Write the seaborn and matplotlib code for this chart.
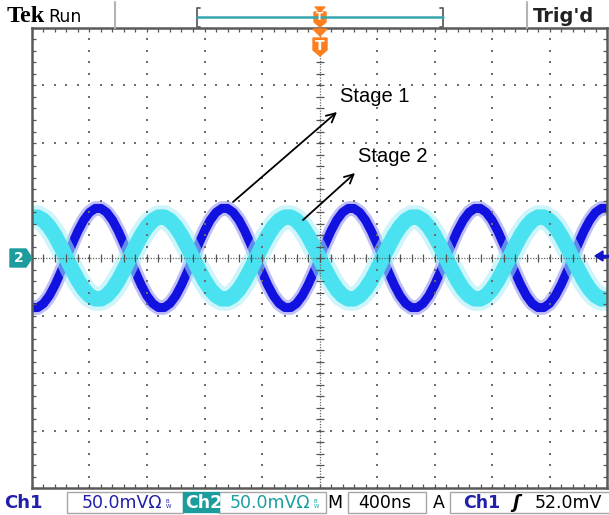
import numpy as np
import pandas as pd
import matplotlib
matplotlib.use("Agg")
import matplotlib.pyplot as plt
from matplotlib.patches import Polygon, Rectangle
import seaborn as sns

# ---- acquisition settings (from the scope readout) ----
NS_PER_DIV = 400
MV_PER_DIV = 50
H_DIVS = 10
V_DIVS = 8

# ---- captured traces: one sample every 40 ns ----
time_ns = np.arange(-2000, 2001, 40)

ch1_mv = [
    -43.1, -43.1, -39.6, -32.9, -23.5, -12.3,
    0.0, 12.3, 23.5, 32.9, 39.6, 43.1, 43.1, 39.6, 32.9, 23.5, 12.3,
    0.0, -12.3, -23.5, -32.9, -39.6, -43.1, -43.1, -39.6, -32.9, -23.5, -12.3,
    0.0, 12.3, 23.5, 32.9, 39.6, 43.1, 43.1, 39.6, 32.9, 23.5, 12.3,
    0.0, -12.3, -23.5, -32.9, -39.6, -43.1, -43.1, -39.6, -32.9, -23.5, -12.3,
    0.0, 12.3, 23.5, 32.9, 39.6, 43.1, 43.1, 39.6, 32.9, 23.5, 12.3,
    0.0, -12.3, -23.5, -32.9, -39.6, -43.1, -43.1, -39.6, -32.9, -23.5, -12.3,
    0.0, 12.3, 23.5, 32.9, 39.6, 43.1, 43.1, 39.6, 32.9, 23.5, 12.3,
    0.0, -12.3, -23.5, -32.9, -39.6, -43.1, -43.1, -39.6, -32.9, -23.5, -12.3,
    0.0, 12.3, 23.5, 32.9, 39.6, 43.1, 43.1,
]

ch2_mv = [
    35.6, 35.6, 32.7, 27.2, 19.5, 10.1,
    0.0, -10.1, -19.5, -27.2, -32.7, -35.6, -35.6, -32.7, -27.2, -19.5, -10.1,
    0.0, 10.1, 19.5, 27.2, 32.7, 35.6, 35.6, 32.7, 27.2, 19.5, 10.1,
    0.0, -10.1, -19.5, -27.2, -32.7, -35.6, -35.6, -32.7, -27.2, -19.5, -10.1,
    0.0, 10.1, 19.5, 27.2, 32.7, 35.6, 35.6, 32.7, 27.2, 19.5, 10.1,
    0.0, -10.1, -19.5, -27.2, -32.7, -35.6, -35.6, -32.7, -27.2, -19.5, -10.1,
    0.0, 10.1, 19.5, 27.2, 32.7, 35.6, 35.6, 32.7, 27.2, 19.5, 10.1,
    0.0, -10.1, -19.5, -27.2, -32.7, -35.6, -35.6, -32.7, -27.2, -19.5, -10.1,
    0.0, 10.1, 19.5, 27.2, 32.7, 35.6, 35.6, 32.7, 27.2, 19.5, 10.1,
    0.0, -10.1, -19.5, -27.2, -32.7, -35.6, -35.6,
]

annotations = ["Stage 1", "Stage 2"]
ch_scale_text = "50.0mV\u03a9"
timebase_text = "400ns"
trigger_level_text = "52.0mV"

CH1_COLOR = "#1212e0"
CH1_HALO = "#8c8cf0"
CH2_COLOR = "#4ae2f0"
CH2_HALO = "#a4eef6"
CH1_TEXT = "#2020aa"
CH2_TEXT = "#1a9ea0"
ORANGE = "#ff7f1e"
GRID = "#6e6e6e"

sns.set_style("white")
plt.rcParams["font.family"] = ["DejaVu Sans"]

W, H = 609, 515
fig = plt.figure(figsize=(W / 100, H / 100), dpi=100)

# ---- graticule area ----
left, right, top, bottom = 32, 607, 28, 488
ax = fig.add_axes([left / W, (H - bottom) / H, (right - left) / W, (bottom - top) / H])
xmax = H_DIVS / 2 * NS_PER_DIV
ymax = V_DIVS / 2 * MV_PER_DIV
ax.set_xlim(-xmax, xmax)
ax.set_ylim(-ymax, ymax)

df = pd.DataFrame({
    "time_ns": np.concatenate([time_ns, time_ns]),
    "mV": np.concatenate([ch1_mv, ch2_mv]),
    "channel": ["Ch1"] * len(time_ns) + ["Ch2"] * len(time_ns),
})
d1 = df[df["channel"] == "Ch1"]
d2 = df[df["channel"] == "Ch2"]

# Ch1 first, Ch2 on top of it (as the scope overlays them)
sns.lineplot(data=d1, x="time_ns", y="mV", color=CH1_HALO, linewidth=10.5,
             alpha=0.55, estimator=None, sort=False, ax=ax, legend=False)
sns.lineplot(data=d1, x="time_ns", y="mV", color=CH1_COLOR, linewidth=6.5,
             estimator=None, sort=False, ax=ax, legend=False)
sns.lineplot(data=d2, x="time_ns", y="mV", color=CH2_HALO, linewidth=17,
             alpha=0.55, estimator=None, sort=False, ax=ax, legend=False)
sns.lineplot(data=d2, x="time_ns", y="mV", color=CH2_COLOR, linewidth=11,
             estimator=None, sort=False, ax=ax, legend=False)

ax.set_xlabel("")
ax.set_ylabel("")
ax.set_xticks([])
ax.set_yticks([])
for s in ax.spines.values():
    s.set_color("#5a5a5a")
    s.set_linewidth(1.8)
    s.set_zorder(6)

# dotted division lines
minor_x = np.arange(-xmax, xmax + 1, NS_PER_DIV / 5)
minor_y = np.arange(-ymax, ymax + 1, MV_PER_DIV / 5)
for k in range(-H_DIVS // 2 + 1, H_DIVS // 2):
    if k == 0:
        continue
    ax.plot([k * NS_PER_DIV] * len(minor_y), minor_y, ls="none", marker="s",
            ms=1.7, mew=0, color=GRID, zorder=5)
for j in range(-V_DIVS // 2 + 1, V_DIVS // 2):
    if j == 0:
        continue
    ax.plot(minor_x, [j * MV_PER_DIV] * len(minor_x), ls="none", marker="s",
            ms=1.7, mew=0, color=GRID, zorder=5)

# centre cross with minor ticks
ax.axhline(0, color="#666666", lw=0.9, ls=(0, (1, 1.2)), zorder=5)
ax.axvline(0, color="#666666", lw=0.9, ls=(0, (1, 1.2)), zorder=5)
ax.plot(minor_x, np.zeros_like(minor_x), ls="none", marker="|", ms=6,
        mew=0.9, color="#555555", zorder=5)
ax.plot(np.zeros_like(minor_y), minor_y, ls="none", marker="_", ms=6,
        mew=0.9, color="#555555", zorder=5)

# edge ticks (half clipped by the frame)
for yy in (-ymax, ymax):
    ax.plot(minor_x, [yy] * len(minor_x), ls="none", marker="|", ms=6,
            mew=0.9, color="#555555", zorder=5)
for xx in (-xmax, xmax):
    ax.plot([xx] * len(minor_y), minor_y, ls="none", marker="_", ms=6,
            mew=0.9, color="#555555", zorder=5)

# ---- overlay in pixel units for the scope chrome ----
ov = fig.add_axes([0, 0, 1, 1], zorder=10)
ov.set_xlim(0, W)
ov.set_ylim(H, 0)
ov.axis("off")
ov.patch.set_alpha(0)

# top status bar
ov.text(7, 17, "Tek", fontfamily="Liberation Serif", fontweight="bold",
        fontsize=17.5, va="center", ha="left", color="black")
ov.text(48, 17.5, "Run", fontsize=12.5, va="center", ha="left", color="black")
ov.plot([115, 115], [2, 28], color="#b4b4b4", lw=1.5)
ov.plot([527, 527], [2, 28], color="#b4b4b4", lw=1.5)
ov.text(533, 17, "Trig'd", fontsize=14, fontweight="bold", va="center",
        ha="left", color="#222222")
ov.plot([200, 197, 197, 200], [8, 8, 27, 27], color="#606060", lw=1.3)
ov.plot([440, 443, 443, 440], [8, 8, 27, 27], color="#606060", lw=1.3)
ov.plot([197, 443], [17, 17], color="#36a6ae", lw=1.8)
ov.add_patch(Polygon([(315, 7), (325, 7), (320, 12)], closed=True, color=ORANGE))
ov.add_patch(Polygon([(314, 12), (326, 12), (326, 22), (320, 27), (314, 22)],
                     closed=True, color=ORANGE))
ov.text(320, 17.5, "T", color="white", fontsize=7.5, fontweight="bold",
        ha="center", va="center")

# trigger position marker below the frame top
ov.add_patch(Polygon([(313, 29), (327, 29), (320, 36)], closed=True, color=ORANGE))
ov.add_patch(Polygon([(313, 38), (327, 38), (327, 50), (320, 56), (313, 50)],
                     closed=True, color=ORANGE))
ov.text(320, 46, "T", color="white", fontsize=10, fontweight="bold",
        ha="center", va="center")

# channel 2 ground marker and trigger level arrow
ov.add_patch(Polygon([(10, 249), (26, 249), (32, 258), (26, 267), (10, 267)],
                     closed=True, color="#1c9c9c"))
ov.text(19, 258.5, "2", color="white", fontsize=10, fontweight="bold",
        ha="center", va="center")
ov.add_patch(Polygon([(595, 256), (603, 251), (603, 261)], closed=True,
                     color="#1414c8"))
ov.plot([601, 608], [256, 256], color="#1414c8", lw=2.5)

# stage annotations
arrow_kw = dict(arrowstyle="->", color="black", lw=1.3, mutation_scale=16,
                shrinkA=0, shrinkB=0)
ov.annotate("", xy=(337, 112), xytext=(233, 202), arrowprops=arrow_kw)
ov.annotate("", xy=(355, 173), xytext=(303, 220), arrowprops=arrow_kw)
ov.text(340, 96, annotations[0], fontfamily="Liberation Sans", fontsize=14.5,
        ha="left", va="center", color="black")
ov.text(358, 157, annotations[1], fontfamily="Liberation Sans", fontsize=14.5,
        ha="left", va="center", color="black")

# bottom readout bar
ty = 503
box_kw = dict(fill=False, edgecolor="#a8a8a8", lw=1)
ov.add_patch(Rectangle((67, 492), 116, 21, **box_kw))
ov.add_patch(Rectangle((219, 492), 107, 21, **box_kw))
ov.add_patch(Rectangle((348, 492), 78, 21, **box_kw))
ov.add_patch(Rectangle((450, 492), 160, 21, **box_kw))
ov.add_patch(Rectangle((183, 492), 36, 20, color="#1c9c9c"))

ov.text(4, ty, "Ch1", fontsize=13, fontweight="bold", color=CH1_TEXT,
        va="center", ha="left")
ov.text(82, ty, ch_scale_text, fontsize=12.5, color=CH1_TEXT, va="center", ha="left")
ov.text(166, ty + 1, "B\nW", fontsize=4, color=CH1_TEXT, va="center", ha="left",
        linespacing=0.9)
ov.text(185, ty, "Ch2", fontsize=12.5, fontweight="bold", color="white",
        va="center", ha="left")
ov.text(230, ty, ch_scale_text, fontsize=12.5, color=CH2_TEXT, va="center", ha="left")
ov.text(314, ty + 1, "B\nW", fontsize=4, color=CH2_TEXT, va="center", ha="left",
        linespacing=0.9)
ov.text(327, ty, "M", fontsize=12.5, color="black", va="center", ha="left")
ov.text(358, ty, timebase_text, fontsize=12.5, color="black", va="center", ha="left")
ov.text(433, ty, "A", fontsize=12.5, color="black", va="center", ha="left")
ov.text(463, ty, "Ch1", fontsize=12.5, fontweight="bold", color=CH1_TEXT,
        va="center", ha="left")
ov.text(512, ty, "\u0283", fontsize=13, fontweight="bold", color="black",
        va="center", ha="left", style="italic")
ov.text(535, ty, trigger_level_text, fontsize=12.5, color="black",
        va="center", ha="left")

fig.savefig("out.png", dpi=100)
